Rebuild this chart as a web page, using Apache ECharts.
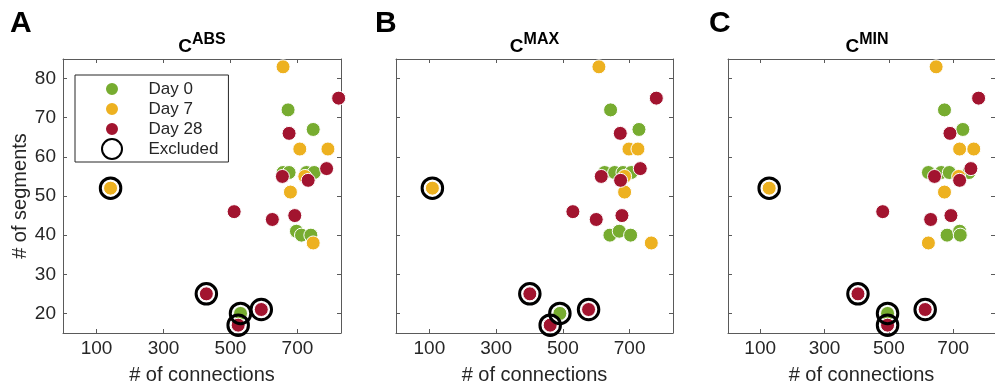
<!DOCTYPE html>
<html><head><meta charset="utf-8">
<script src="https://cdn.jsdelivr.net/npm/echarts@6/dist/echarts.min.js"></script>
<style>html,body{margin:0;padding:0;background:#fff}#c{width:995px;height:390px}</style>
</head><body><div id="c"></div>
<script>
// ---- data ----
const panelLetters = ['A', 'B', 'C'];
const panelTitles = ['ABS', 'MAX', 'MIN'];
const xTicks = [100, 300, 500, 700];
const yTicks = [20, 30, 40, 50, 60, 70, 80];
const xRange = [0, 830];
const yRange = [15, 85];
const seriesNames = ['Day 0', 'Day 7', 'Day 28', 'Excluded'];
const xLabel = '# of connections';
const yLabel = '# of segments';

// C^ABS
const absDay0 = [[672,72],[747,67],[657,56],[675,56],[727,56],[750,56],[697,41],[712,40],[740,40],[530,20]];
const absDay7 = [[657,83],[707,62],[791,62],[722,55],[679,51],[747,38],[142,52]];
const absDay28 = [[823,75],[675,66],[787,57],[655,55],[732,54],[511,46],[625,44],[692,45],[428,25],[592,21],[523,17]];
const absExcluded = [[142,52],[428,25],[530,20],[592,21],[523,17]];
// C^MAX
const maxDay0 = [[643,72],[728,67],[625,56],[655,56],[680,56],[705,56],[641,40],[669,41],[703,40],[491,20]];
const maxDay7 = [[608,83],[698,62],[725,62],[685,55],[685,51],[765,38],[109,52]];
const maxDay28 = [[780,75],[672,66],[732,57],[615,55],[673,54],[530,46],[600,44],[677,45],[401,25],[577,21],[462,17]];
const maxExcluded = [[109,52],[401,25],[491,20],[577,21],[462,17]];
// C^MIN
const minDay0 = [[673,72],[730,67],[623,56],[663,56],[688,56],[749,56],[681,40],[720,41],[722,40],[496,20]];
const minDay7 = [[647,83],[720,62],[764,62],[717,55],[673,51],[623,38],[128,52]];
const minDay28 = [[779,75],[690,66],[755,57],[642,55],[720,54],[481,46],[630,44],[693,45],[404,25],[613,21],[496,17]];
const minExcluded = [[128,52],[404,25],[496,20],[613,21],[496,17]];

// ---- chart ----
const panels = [
  [absDay0, absDay7, absDay28, absExcluded],
  [maxDay0, maxDay7, maxDay28, maxExcluded],
  [minDay0, minDay7, minDay28, minExcluded]
];
const colors = ['#77AC30', '#EDB120', '#A2142F'];
const FONT = 'Liberation Sans, Arial, Helvetica, sans-serif';
const TXT = '#262626';
const AX = '#5a5a5a';
const grids = [
  {left: 63, top: 59, width: 278, height: 278},
  {left: 396, top: 59, width: 277, height: 278},
  {left: 728, top: 59, width: 278, height: 278}
];
const xAxes = [], yAxes = [], series = [], graphics = [];
grids.forEach((g, p) => {
  const lineStyle = {color: AX, width: 1};
  xAxes.push({
    gridIndex: p, type: 'value', min: xRange[0], max: xRange[1], position: 'bottom',
    axisLine: {show: true, onZero: false, lineStyle},
    axisTick: {show: true, inside: true, length: 4, customValues: xTicks, lineStyle},
    axisLabel: {show: true, customValues: xTicks, margin: 6, fontSize: 19, color: TXT, fontFamily: FONT},
    splitLine: {show: false},
    name: xLabel, nameLocation: 'middle', nameGap: 32,
    nameTextStyle: {fontSize: 20, color: TXT, fontFamily: FONT}
  });
  xAxes.push({
    gridIndex: p, type: 'value', min: xRange[0], max: xRange[1], position: 'top',
    axisLine: {show: true, onZero: false, lineStyle},
    axisTick: {show: true, inside: true, length: 4, customValues: xTicks, lineStyle},
    axisLabel: {show: false}, splitLine: {show: false}
  });
  yAxes.push({
    gridIndex: p, type: 'value', min: yRange[0], max: yRange[1], position: 'left',
    axisLine: {show: true, onZero: false, lineStyle},
    axisTick: {show: true, inside: true, length: 4, customValues: yTicks, lineStyle},
    axisLabel: {show: p === 0, customValues: yTicks, margin: 7, fontSize: 19, color: TXT, fontFamily: FONT},
    splitLine: {show: false},
    name: p === 0 ? yLabel : '', nameLocation: 'middle', nameGap: 31,
    nameTextStyle: {fontSize: 20, color: TXT, fontFamily: FONT}
  });
  yAxes.push({
    gridIndex: p, type: 'value', min: yRange[0], max: yRange[1], position: 'right',
    axisLine: {show: true, onZero: false, lineStyle},
    axisTick: {show: true, inside: true, length: 4, customValues: yTicks, lineStyle},
    axisLabel: {show: false}, splitLine: {show: false}
  });
  panels[p].forEach((d, k) => {
    if (k < 3) {
      series.push({
        type: 'scatter', name: seriesNames[k], xAxisIndex: 2 * p, yAxisIndex: 2 * p,
        data: d, symbolSize: 14, clip: false,
        itemStyle: {color: colors[k], borderColor: '#ffffff', borderWidth: 1, opacity: 1},
        emphasis: {disabled: true}, z: 2
      });
    } else {
      series.push({
        type: 'scatter', name: seriesNames[k], xAxisIndex: 2 * p, yAxisIndex: 2 * p,
        data: d, symbolSize: 20.5, clip: false,
        itemStyle: {color: 'rgba(0,0,0,0)', borderColor: '#000000', borderWidth: 3, opacity: 1},
        emphasis: {disabled: true}, z: 3
      });
    }
  });
  const cx = g.left + g.width / 2;
  graphics.push({
    type: 'text', x: cx, y: 56,
    style: {
      text: '{c|C}{s|' + panelTitles[p] + '}', align: 'center', verticalAlign: 'bottom',
      rich: {
        c: {fontSize: 19, fontWeight: 'bold', fontFamily: FONT, fill: '#000', verticalAlign: 'bottom'},
        s: {fontSize: 16, fontWeight: 'bold', fontFamily: FONT, fill: '#000', verticalAlign: 'bottom', padding: [0, 0, 8, 0]}
      }
    }
  });
});
graphics.push(
  {type: 'text', x: 10, y: 9, style: {text: panelLetters[0], font: 'bold 30px ' + FONT, fill: '#000'}},
  {type: 'text', x: 375, y: 9, style: {text: panelLetters[1], font: 'bold 30px ' + FONT, fill: '#000'}},
  {type: 'text', x: 709, y: 9, style: {text: panelLetters[2], font: 'bold 30px ' + FONT, fill: '#000'}}
);
const dotIcon = 'path://M0,0M20,20M10,3A7,7,0,1,1,10,17A7,7,0,1,1,10,3Z';
const ringIcon = 'path://M0,0M20,20M10,0A10,10,0,1,1,10,20A10,10,0,1,1,10,0Z';
const chart = echarts.init(document.getElementById('c'), null, {renderer: 'canvas'});
chart.setOption({
  animation: false,
  backgroundColor: '#ffffff',
  grid: grids,
  xAxis: xAxes,
  yAxis: yAxes,
  series: series,
  graphic: graphics,
  legend: {
    left: 75, top: 75, orient: 'vertical', itemWidth: 63, itemHeight: 20, itemGap: -2,
    padding: [3, 10, 2, 26], borderColor: '#262626', borderWidth: 1, backgroundColor: '#ffffff',
    selectedMode: false,
    textStyle: {fontSize: 17, color: TXT, fontFamily: FONT},
    data: [
      {name: seriesNames[0], icon: dotIcon},
      {name: seriesNames[1], icon: dotIcon},
      {name: seriesNames[2], icon: dotIcon},
      {name: seriesNames[3], icon: ringIcon}
    ]
  }
});
</script>
</body></html>
